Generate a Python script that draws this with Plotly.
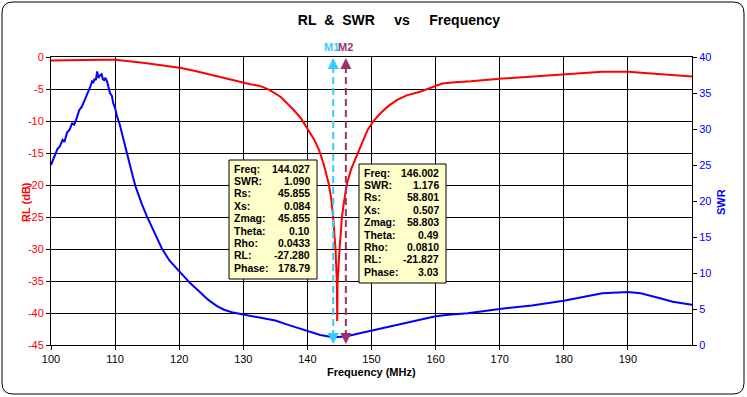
import plotly.graph_objects as go

# ---------------- data ----------------
rl_freq = [100, 102, 104, 106, 108, 110, 111, 112.3, 114, 115.5, 118, 120.3, 122.5, 124.8,
           127, 129.5, 131.1, 132.7, 134, 135.8, 137.8, 139, 140.2, 141, 141.8, 142.5, 143.3,
           143.7, 144.0, 144.4, 144.6, 144.65, 144.7, 145.0, 145.4, 145.8, 146.2, 146.8, 147.5,
           148.5, 149.4, 150.3, 151.4, 152.7, 154, 155.5, 157.7, 159, 160, 161, 163, 165.5,
           170, 175, 180, 183, 186, 190, 193, 195, 200]
rl_db = [-0.55, -0.5, -0.45, -0.42, -0.42, -0.42, -0.5, -0.68, -0.85, -1.05, -1.4, -1.72, -2.2, -2.77,
         -3.3, -3.85, -4.25, -4.55, -5.1, -6.2, -8.2, -9.6, -11.4, -12.8, -14.5, -16.6, -19.7,
         -22.0, -24.9, -30.2, -35.4, -41.3, -35.4, -30.2, -24.9, -22.0, -19.7, -17.6, -15.8,
         -13.5, -11.4, -10.0, -8.8, -7.6, -6.7, -6.0, -5.4, -4.9, -4.45, -4.15, -3.95, -3.8,
         -3.4, -3.05, -2.7, -2.45, -2.3, -2.3, -2.5, -2.66, -3.05]

swr_freq = [100, 100.4, 100.7, 101.0, 101.4, 101.8, 102.1, 102.5, 102.9, 103.3, 103.6, 103.9, 104.4,
            104.8, 105.3, 105.6, 105.8, 106.1, 106.4, 106.6, 106.8, 107.0, 107.2, 107.4, 107.6,
            107.9, 108.1, 108.3, 108.5, 108.75, 109.0, 109.2, 109.5, 109.7, 110.0, 110.3, 110.7,
            111.0, 111.3, 111.6, 112.0, 112.3, 112.8, 113.2, 113.6, 114.2, 115, 116, 117.3, 118.5,
            120.2, 121.7, 123.3, 124.5, 125.9, 127, 128.4, 130, 131.1, 133, 135, 137, 140, 142,
            144, 146, 148, 150, 152, 154.5, 157, 160, 162, 165, 170, 175, 180, 183, 186, 190,
            192, 195, 197, 200]
swr_val = [25.0, 25.9, 26.3, 27.2, 27.6, 28.5, 28.2, 29.5, 29.9, 30.8, 30.6, 31.2, 32.6,
           33.1, 34.1, 34.9, 35.2, 35.8, 36.6, 36.4, 37.0, 36.8, 38.0, 37.1, 37.4,
           37.6, 36.9, 36.8, 37.1, 36.6, 35.9, 35.0, 34.6, 33.6, 32.9, 31.75, 30.7,
           29.6, 28.8, 27.6, 26.0, 24.8, 23.3, 22.0, 20.9, 19.5, 17.8, 15.8, 13.4, 11.7,
           10.0, 8.6, 7.3, 6.3, 5.4, 4.9, 4.5, 4.25, 4.07, 3.8, 3.4, 2.8, 1.9, 1.4,
           1.09, 1.18, 1.6, 2.0, 2.3, 2.8, 3.4, 4.0, 4.2, 4.4, 5.0, 5.5, 6.15, 6.7, 7.2, 7.36,
           7.2, 6.5, 6.0, 5.6]

x_ticks = [100, 110, 120, 130, 140, 150, 160, 170, 180, 190]
rl_ticks = [0, -5, -10, -15, -20, -25, -30, -35, -40, -45]
swr_ticks = [0, 5, 10, 15, 20, 25, 30, 35, 40]

marker_names = ["M1", "M2"]
marker_freqs = [144.027, 146.002]
marker_colors = ["#33CCFF", "#993366"]
marker_label_shift = [-2, 0]

box_labels = ["Freq:", "SWR:", "Rs:", "Xs:", "Zmag:", "Theta:", "Rho:", "RL:", "Phase:"]
m1_values = ["144.027", "1.090", "45.855", "0.084", "45.855", "0.10", "0.0433", "-27.280", "178.79"]
m2_values = ["146.002", "1.176", "58.801", "0.507", "58.803", "0.49", "0.0810", "-21.827", "3.03"]

# ---------------- layout geometry ----------------
W, H = 747, 397
ML, MR, MT, MB = 51, 55, 57, 52
PW, PH = W - ML - MR, H - MT - MB
FONT = "Arial, Liberation Sans, sans-serif"


def px(x):
    return (x - ML) / PW


def py(y):
    return (H - MB - y) / PH


fig = go.Figure()
fig.add_trace(go.Scatter(x=rl_freq, y=rl_db, mode="lines", line=dict(color="#FF0000", width=2),
                         yaxis="y", showlegend=False, hoverinfo="skip"))
fig.add_trace(go.Scatter(x=swr_freq, y=swr_val, mode="lines", line=dict(color="#0000FF", width=2),
                         yaxis="y2", showlegend=False, hoverinfo="skip"))

shapes = []
annotations = []

# rounded figure border
x0, x1, y0, y1, r = 2, 744, 2, 394, 11
path = (f"M {px(x0 + r)} {py(y0)} L {px(x1 - r)} {py(y0)} Q {px(x1)} {py(y0)} {px(x1)} {py(y0 + r)} "
        f"L {px(x1)} {py(y1 - r)} Q {px(x1)} {py(y1)} {px(x1 - r)} {py(y1)} "
        f"L {px(x0 + r)} {py(y1)} Q {px(x0)} {py(y1)} {px(x0)} {py(y1 - r)} "
        f"L {px(x0)} {py(y0 + r)} Q {px(x0)} {py(y0)} {px(x0 + r)} {py(y0)} Z")
shapes.append(dict(type="path", path=path, xref="paper", yref="paper",
                   line=dict(color="#000000", width=1), layer="below"))

# marker lines, arrows and labels
for name, f, c, sh in zip(marker_names, marker_freqs, marker_colors, marker_label_shift):
    shapes.append(dict(type="line", xref="x", yref="paper", x0=f, x1=f, y0=py(337), y1=py(64),
                       line=dict(color=c, width=2, dash="7px,4px")))
    annotations.append(dict(x=f, y=py(58), xref="x", yref="paper", ax=0, ay=9, text="",
                            showarrow=True, arrowhead=2, arrowsize=1.1, arrowwidth=2, arrowcolor=c,
                            standoff=0))
    annotations.append(dict(x=f, y=py(344), xref="x", yref="paper", ax=0, ay=-9, text="",
                            showarrow=True, arrowhead=2, arrowsize=1.1, arrowwidth=2, arrowcolor=c,
                            standoff=0))
    annotations.append(dict(x=f, y=py(47), xref="x", yref="paper", text=f"<b>{name}</b>",
                            showarrow=False, xanchor="center", yanchor="middle", xshift=sh,
                            font=dict(family=FONT, size=11, color=c)))

# data boxes
boxes = [
    dict(x0=229, x1=317, y0=160, y1=279, vals=m1_values),
    dict(x0=359, x1=446, y0=164, y1=283, vals=m2_values),
]
for b in boxes:
    shapes.append(dict(type="rect", xref="paper", yref="paper", x0=px(b["x0"]), x1=px(b["x1"]),
                       y0=py(b["y0"]), y1=py(b["y1"]), fillcolor="#FFFFCC",
                       line=dict(color="#000000", width=1), layer="above"))
    for i, (lab, val) in enumerate(zip(box_labels, b["vals"])):
        yy = b["y0"] + 8.5 + i * 12.4
        annotations.append(dict(x=px(b["x0"] + 3), y=py(yy), xref="paper", yref="paper",
                                text=f"<b>{lab}</b>", showarrow=False, xanchor="left", yanchor="middle",
                                font=dict(family=FONT, size=10.5, color="#000000")))
        annotations.append(dict(x=px(b["x1"] - 5), y=py(yy), xref="paper", yref="paper",
                                text=f"<b>{val}</b>", showarrow=False, xanchor="right", yanchor="middle",
                                font=dict(family=FONT, size=10.5, color="#000000")))

# axis titles
annotations.append(dict(x=px(18), y=py(202), xref="paper", yref="paper", text="<b>RL (dB)</b>",
                        textangle=-90, showarrow=False, font=dict(family=FONT, size=11, color="#FF0000")))
annotations.append(dict(x=px(729), y=py(202), xref="paper", yref="paper", text="<b>SWR</b>",
                        textangle=-90, showarrow=False, font=dict(family=FONT, size=11, color="#0000FF")))
annotations.append(dict(x=px(371), y=py(380), xref="paper", yref="paper", text="<b>Frequency (MHz)</b>",
                        showarrow=False, font=dict(family=FONT, size=11, color="#000000")))

title_text = "<b>RL\u00a0 &\u00a0 SWR\u00a0\u00a0\u00a0\u00a0 vs\u00a0\u00a0\u00a0\u00a0 Frequency</b>"

fig.update_layout(
    width=W, height=H,
    margin=dict(l=ML, r=MR, t=MT, b=MB, pad=0),
    paper_bgcolor="#FFFFFF", plot_bgcolor="#FFFFFF",
    title=dict(text=title_text, x=399 / W, y=1 - 20 / H, xref="container", yref="container",
               xanchor="center", yanchor="middle", font=dict(family=FONT, size=14, color="#000000")),
    xaxis=dict(range=[100, 200], tickvals=x_ticks, ticktext=[str(v) for v in x_ticks],
               showgrid=True, gridcolor="#000000", gridwidth=1, showline=True, linecolor="#000000",
               linewidth=1, mirror=True, ticks="outside", ticklen=4, tickcolor="#000000",
               tickfont=dict(family=FONT, size=11, color="#000000"), zeroline=False),
    yaxis=dict(range=[-45, 0], tickvals=rl_ticks, ticktext=[str(v) for v in rl_ticks],
               showgrid=True, gridcolor="#000000", gridwidth=1, showline=True, linecolor="#000000",
               linewidth=1, ticks="outside", ticklen=4, tickcolor="#000000",
               zeroline=True, zerolinecolor="#000000", zerolinewidth=1,
               tickfont=dict(family=FONT, size=11, color="#FF0000")),
    yaxis2=dict(range=[0, 40], tickvals=swr_ticks, ticktext=[str(v) for v in swr_ticks],
                overlaying="y", side="right", showgrid=False, showline=True, linecolor="#000000",
                linewidth=1, ticks="outside", ticklen=4, tickcolor="#000000", zeroline=False,
                tickfont=dict(family=FONT, size=11, color="#0000FF")),
    shapes=shapes,
    annotations=annotations,
)

fig.write_html("out.html", config={"displayModeBar": False},
               post_script="document.body.style.margin='0';document.body.style.overflow='hidden';")
